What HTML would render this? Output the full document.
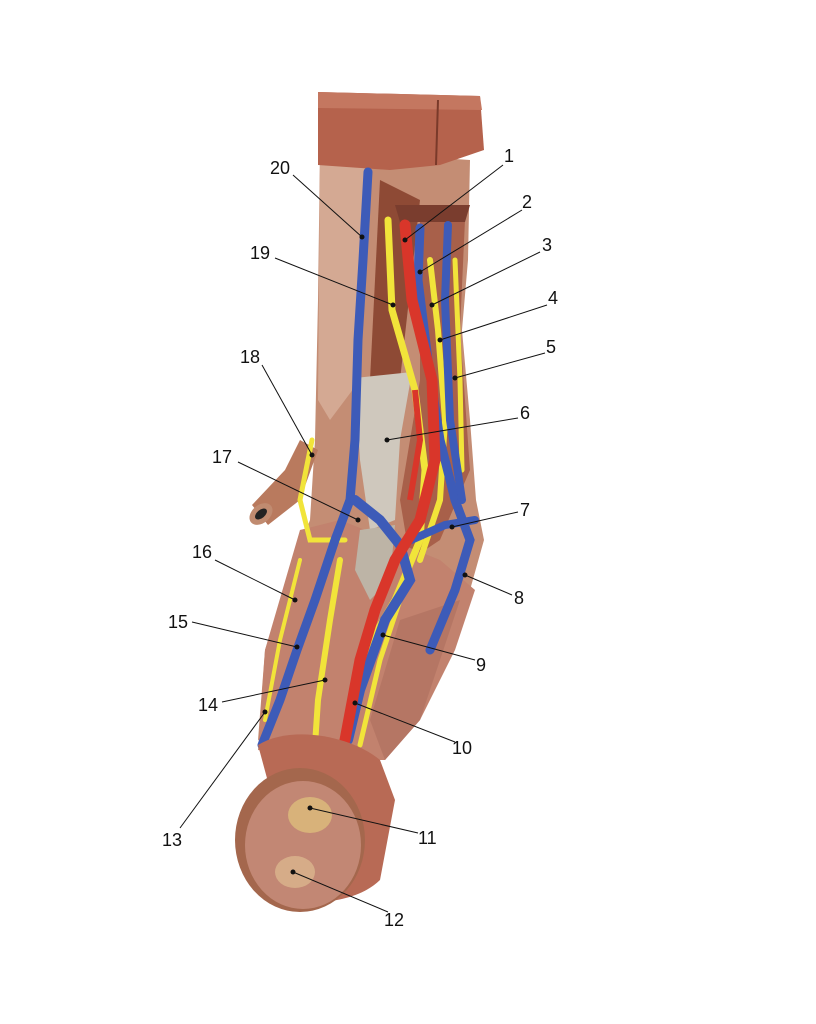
<!DOCTYPE html>
<html><head><meta charset="utf-8"><style>
html,body{margin:0;padding:0;background:#fff;}
svg{display:block}
text{font-family:"Liberation Sans",sans-serif;font-size:18px;fill:#111}
</style></head><body>
<svg width="816" height="1024" viewBox="0 0 816 1024" xmlns="http://www.w3.org/2000/svg">
<rect width="816" height="1024" fill="#fff"/>
<path d="M320,150 L470,160 L468,260 L462,330 L470,420 L476,500 L484,540 L470,590 L440,660 L400,730 L330,740 L280,735 L258,740 L265,650 L295,560 L310,520 L315,440 L318,300 Z" fill="#c48d74"/>
<path d="M320,160 L365,165 L360,380 L330,420 L318,400 Z" fill="#d4a993"/>
<path d="M380,180 L420,200 L400,380 L370,380 Z" fill="#8e4a35"/>
<path d="M420,210 L465,220 L460,330 L470,470 L440,540 L410,560 L400,500 L420,380 Z" fill="#a8604a"/>
<path d="M300,530 L340,520 L440,560 L475,590 L455,650 L420,720 L385,760 L330,760 L258,750 L265,650 Z" fill="#c2826e"/>
<path d="M400,620 L460,600 L420,720 L385,760 L370,720 Z" fill="#b57664"/>
<path d="M355,378 L412,372 L400,440 L395,520 L370,530 L360,460 Z" fill="#cfc8bd"/>
<path d="M360,530 L395,525 L390,580 L370,600 L355,570 Z" fill="#bdb4a6"/>
<path d="M318,92 L480,96 L484,150 L440,165 L390,170 L318,165 Z" fill="#b5624c"/>
<path d="M318,92 L480,96 L482,110 L318,108 Z" fill="#c47760"/>
<line x1="438" y1="100" x2="436" y2="165" stroke="#7a3a2a" stroke-width="2"/>
<path d="M395,205 L470,205 L465,222 L400,222 Z" fill="#7a3d2e"/>
<path d="M300,440 L318,450 L300,500 L268,525 L252,505 L285,470 Z" fill="#b97a5e"/>
<ellipse cx="261" cy="514" rx="13" ry="9" fill="#c08b70" transform="rotate(-40 261 514)"/>
<ellipse cx="261" cy="514" rx="7" ry="4" fill="#222" transform="rotate(-40 261 514)"/>
<g fill="none" stroke="#f1e43a" stroke-linecap="round">
<path d="M388,220 L392,310 L415,390 L425,470 L420,540 L395,600 L360,660 L345,740" stroke-width="7"/>
<path d="M430,260 L438,330 L445,420 L440,500 L420,560" stroke-width="6"/>
<path d="M455,260 L460,380 L462,470" stroke-width="5"/>
<path d="M312,440 L300,500 L310,540 L345,540" stroke-width="5"/>
<path d="M300,560 L280,640 L265,720" stroke-width="4"/>
<path d="M340,560 L330,620 L318,700 L315,745" stroke-width="6"/>
<path d="M400,600 L380,660 L360,745" stroke-width="5"/>
</g>
<g fill="none" stroke="#3d5bb8" stroke-linecap="round">
<path d="M368,172 L363,260 L358,340 L355,440 L350,500 L335,540 L315,600 L297,650 L280,700 L262,745" stroke-width="9"/>
<path d="M355,500 L380,520 L400,545 L410,580 L385,620 L360,690 L348,740" stroke-width="10"/>
<path d="M420,228 L418,280 L428,360 L440,440 L455,500 L470,540 L455,590 L430,650" stroke-width="9"/>
<path d="M448,225 L445,300 L450,420 L462,500" stroke-width="8"/>
<path d="M400,545 L445,525 L475,520" stroke-width="8"/>
</g>
<path d="M405,225 L412,300 L432,380 L435,460 L420,520 L395,560 L375,610 L360,660 L345,740" fill="none" stroke="#d9362a" stroke-width="11" stroke-linecap="round"/>
<path d="M415,390 L420,440 L410,500" fill="none" stroke="#d9362a" stroke-width="6"/>
<path d="M258,745 C290,725 350,735 380,760 L395,800 L380,880 C360,900 320,905 300,900 Z" fill="#b86a55"/>
<ellipse cx="300" cy="840" rx="65" ry="72" fill="#a4674d"/>
<ellipse cx="303" cy="845" rx="58" ry="64" fill="#c28774"/>
<ellipse cx="310" cy="815" rx="22" ry="18" fill="#d8b27a"/>
<ellipse cx="295" cy="872" rx="20" ry="16" fill="#d6ac88"/>
<g stroke="#111" stroke-width="1" fill="none">
<line x1="503" y1="165" x2="405" y2="240"/>
<line x1="522" y1="210" x2="420" y2="272"/>
<line x1="540" y1="252" x2="432" y2="305"/>
<line x1="547" y1="305" x2="440" y2="340"/>
<line x1="545" y1="353" x2="455" y2="378"/>
<line x1="518" y1="418" x2="387" y2="440"/>
<line x1="518" y1="512" x2="452" y2="527"/>
<line x1="512" y1="595" x2="465" y2="575"/>
<line x1="475" y1="660" x2="383" y2="635"/>
<line x1="455" y1="742" x2="355" y2="703"/>
<line x1="418" y1="833" x2="310" y2="808"/>
<line x1="388" y1="912" x2="293" y2="872"/>
<line x1="180" y1="828" x2="265" y2="712"/>
<line x1="222" y1="702" x2="325" y2="680"/>
<line x1="192" y1="622" x2="297" y2="647"/>
<line x1="215" y1="560" x2="295" y2="600"/>
<line x1="238" y1="462" x2="358" y2="520"/>
<line x1="262" y1="365" x2="312" y2="455"/>
<line x1="275" y1="258" x2="393" y2="305"/>
<line x1="293" y1="175" x2="362" y2="237"/>
</g>
<g fill="#111">
<circle cx="405" cy="240" r="2.5"/><circle cx="420" cy="272" r="2.5"/><circle cx="432" cy="305" r="2.5"/><circle cx="440" cy="340" r="2.5"/><circle cx="455" cy="378" r="2.5"/><circle cx="387" cy="440" r="2.5"/><circle cx="452" cy="527" r="2.5"/><circle cx="465" cy="575" r="2.5"/><circle cx="383" cy="635" r="2.5"/><circle cx="355" cy="703" r="2.5"/><circle cx="310" cy="808" r="2.5"/><circle cx="293" cy="872" r="2.5"/><circle cx="265" cy="712" r="2.5"/><circle cx="325" cy="680" r="2.5"/><circle cx="297" cy="647" r="2.5"/><circle cx="295" cy="600" r="2.5"/><circle cx="358" cy="520" r="2.5"/><circle cx="312" cy="455" r="2.5"/><circle cx="393" cy="305" r="2.5"/><circle cx="362" cy="237" r="2.5"/>
</g>
<text x="504" y="162">1</text>
<text x="522" y="208">2</text>
<text x="542" y="251">3</text>
<text x="548" y="304">4</text>
<text x="546" y="353">5</text>
<text x="520" y="419">6</text>
<text x="520" y="516">7</text>
<text x="514" y="604">8</text>
<text x="476" y="671">9</text>
<text x="452" y="754">10</text>
<text x="418" y="844">11</text>
<text x="384" y="926">12</text>
<text x="162" y="846">13</text>
<text x="198" y="711">14</text>
<text x="168" y="628">15</text>
<text x="192" y="558">16</text>
<text x="212" y="463">17</text>
<text x="240" y="363">18</text>
<text x="250" y="259">19</text>
<text x="270" y="174">20</text>
</svg>
</body></html>
